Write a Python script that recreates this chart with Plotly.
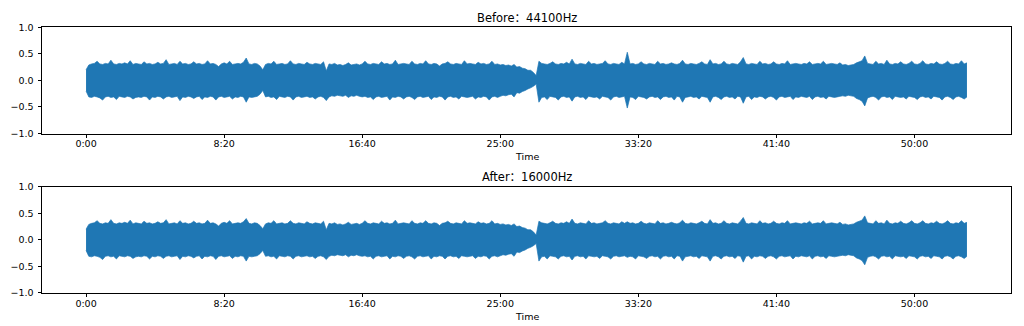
import numpy as np
import plotly.graph_objects as go

# Waveform envelopes (peak amplitude per 10 s block), read as upper / lower bounds.
block_seconds = 10
times = np.arange(0, 3200, block_seconds)  # block start times in seconds (0 .. 3190)

before_upper = [
    0.20, 0.29, 0.31, 0.32, 0.36, 0.31, 0.30, 0.32, 0.31, 0.38, 0.31, 0.30, 0.32, 0.31, 0.33, 0.31, 0.37, 0.30, 0.32, 0.31,
    0.30, 0.35, 0.31, 0.32, 0.30, 0.31, 0.34, 0.31, 0.32, 0.39, 0.30, 0.31, 0.32, 0.30, 0.36, 0.31, 0.32, 0.30, 0.31, 0.35,
    0.31, 0.32, 0.30, 0.31, 0.37, 0.31, 0.32, 0.30, 0.26, 0.31, 0.33, 0.31, 0.36, 0.30, 0.31, 0.32, 0.31, 0.34, 0.42, 0.31,
    0.30, 0.32, 0.31, 0.27, 0.20, 0.30, 0.32, 0.31, 0.36, 0.30, 0.31, 0.32, 0.30, 0.31, 0.37, 0.31, 0.30, 0.32, 0.31, 0.30,
    0.34, 0.31, 0.30, 0.32, 0.31, 0.30, 0.35, 0.18, 0.31, 0.30, 0.32, 0.29, 0.30, 0.28, 0.30, 0.33, 0.29, 0.30, 0.31, 0.29,
    0.31, 0.36, 0.31, 0.30, 0.32, 0.31, 0.30, 0.35, 0.31, 0.32, 0.30, 0.31, 0.38, 0.30, 0.31, 0.32, 0.31, 0.30, 0.36, 0.31,
    0.30, 0.32, 0.31, 0.37, 0.31, 0.30, 0.32, 0.31, 0.27, 0.31, 0.32, 0.35, 0.31, 0.30, 0.32, 0.31, 0.30, 0.37, 0.31, 0.32,
    0.31, 0.30, 0.34, 0.31, 0.32, 0.30, 0.31, 0.36, 0.30, 0.31, 0.29, 0.30, 0.28, 0.29, 0.27, 0.30, 0.25, 0.26, 0.23, 0.22,
    0.19, 0.19, 0.15, 0.09, 0.36, 0.32, 0.31, 0.30, 0.32, 0.35, 0.31, 0.30, 0.32, 0.31, 0.34, 0.31, 0.40, 0.31, 0.30, 0.32,
    0.31, 0.30, 0.36, 0.31, 0.32, 0.30, 0.31, 0.32, 0.37, 0.31, 0.30, 0.32, 0.31, 0.30, 0.34, 0.31, 0.53, 0.31, 0.32, 0.30,
    0.31, 0.35, 0.31, 0.30, 0.32, 0.31, 0.30, 0.36, 0.31, 0.32, 0.30, 0.31, 0.33, 0.31, 0.30, 0.32, 0.38, 0.31, 0.30, 0.32,
    0.31, 0.30, 0.32, 0.35, 0.31, 0.30, 0.39, 0.31, 0.32, 0.30, 0.31, 0.36, 0.31, 0.30, 0.32, 0.31, 0.30, 0.35, 0.43, 0.31,
    0.30, 0.32, 0.31, 0.30, 0.36, 0.31, 0.32, 0.30, 0.31, 0.35, 0.31, 0.30, 0.32, 0.31, 0.37, 0.30, 0.31, 0.32, 0.31, 0.30,
    0.32, 0.31, 0.35, 0.30, 0.31, 0.32, 0.31, 0.36, 0.30, 0.31, 0.32, 0.31, 0.30, 0.33, 0.29, 0.30, 0.28, 0.29, 0.30, 0.33,
    0.35, 0.37, 0.46, 0.32, 0.31, 0.30, 0.36, 0.31, 0.32, 0.30, 0.38, 0.31, 0.30, 0.32, 0.31, 0.35, 0.31, 0.30, 0.32, 0.36,
    0.31, 0.30, 0.32, 0.37, 0.31, 0.30, 0.32, 0.31, 0.35, 0.31, 0.30, 0.32, 0.36, 0.31, 0.30, 0.32, 0.31, 0.37, 0.31, 0.33,
]
before_lower = [
    -0.20, -0.31, -0.32, -0.30, -0.31, -0.33, -0.37, -0.31, -0.30, -0.32, -0.31, -0.36, -0.30, -0.31, -0.32, -0.30, -0.31, -0.35, -0.32, -0.31,
    -0.32, -0.30, -0.31, -0.37, -0.31, -0.32, -0.30, -0.31, -0.35, -0.31, -0.30, -0.32, -0.31, -0.30, -0.38, -0.31, -0.32, -0.30, -0.31, -0.34,
    -0.31, -0.30, -0.36, -0.31, -0.32, -0.30, -0.31, -0.37, -0.31, -0.30, -0.32, -0.31, -0.30, -0.35, -0.31, -0.32, -0.30, -0.31, -0.41, -0.31,
    -0.32, -0.31, -0.30, -0.26, -0.19, -0.31, -0.30, -0.32, -0.31, -0.36, -0.30, -0.31, -0.32, -0.30, -0.31, -0.37, -0.31, -0.30, -0.32, -0.31,
    -0.30, -0.32, -0.31, -0.35, -0.31, -0.30, -0.32, -0.38, -0.31, -0.29, -0.30, -0.28, -0.29, -0.30, -0.28, -0.32, -0.29, -0.30, -0.28, -0.30,
    -0.31, -0.30, -0.32, -0.31, -0.36, -0.31, -0.30, -0.32, -0.31, -0.30, -0.37, -0.31, -0.32, -0.30, -0.31, -0.35, -0.31, -0.30, -0.32, -0.36,
    -0.31, -0.30, -0.32, -0.31, -0.30, -0.36, -0.31, -0.32, -0.30, -0.31, -0.37, -0.31, -0.30, -0.32, -0.31, -0.35, -0.30, -0.31, -0.32, -0.31,
    -0.30, -0.35, -0.31, -0.32, -0.30, -0.31, -0.37, -0.31, -0.30, -0.32, -0.30, -0.28, -0.29, -0.27, -0.26, -0.31, -0.23, -0.24, -0.21, -0.19,
    -0.16, -0.14, -0.11, -0.07, -0.41, -0.32, -0.31, -0.36, -0.30, -0.31, -0.32, -0.37, -0.31, -0.30, -0.32, -0.31, -0.39, -0.31, -0.30, -0.32,
    -0.31, -0.36, -0.30, -0.31, -0.32, -0.31, -0.35, -0.30, -0.31, -0.32, -0.37, -0.31, -0.30, -0.32, -0.31, -0.30, -0.52, -0.31, -0.32, -0.36,
    -0.30, -0.31, -0.32, -0.35, -0.31, -0.30, -0.32, -0.31, -0.36, -0.31, -0.30, -0.32, -0.31, -0.37, -0.30, -0.31, -0.41, -0.32, -0.31, -0.30,
    -0.32, -0.31, -0.35, -0.30, -0.31, -0.32, -0.41, -0.31, -0.30, -0.32, -0.36, -0.31, -0.30, -0.32, -0.31, -0.35, -0.30, -0.31, -0.43, -0.31,
    -0.30, -0.36, -0.31, -0.32, -0.30, -0.31, -0.35, -0.31, -0.30, -0.32, -0.37, -0.31, -0.30, -0.32, -0.31, -0.30, -0.36, -0.31, -0.32, -0.30,
    -0.31, -0.32, -0.30, -0.36, -0.31, -0.30, -0.32, -0.31, -0.35, -0.30, -0.31, -0.32, -0.31, -0.30, -0.29, -0.30, -0.28, -0.29, -0.30, -0.34,
    -0.36, -0.39, -0.48, -0.33, -0.31, -0.30, -0.32, -0.37, -0.31, -0.30, -0.32, -0.31, -0.36, -0.30, -0.31, -0.32, -0.31, -0.35, -0.30, -0.31,
    -0.32, -0.36, -0.31, -0.30, -0.32, -0.31, -0.35, -0.30, -0.31, -0.32, -0.37, -0.31, -0.30, -0.32, -0.36, -0.31, -0.30, -0.32, -0.35, -0.31,
]
after_upper = [
    0.20, 0.29, 0.31, 0.32, 0.36, 0.31, 0.30, 0.32, 0.31, 0.38, 0.31, 0.30, 0.32, 0.31, 0.33, 0.31, 0.37, 0.30, 0.32, 0.31,
    0.30, 0.35, 0.31, 0.32, 0.30, 0.31, 0.34, 0.31, 0.32, 0.38, 0.30, 0.31, 0.32, 0.30, 0.36, 0.31, 0.32, 0.30, 0.31, 0.35,
    0.31, 0.32, 0.30, 0.31, 0.37, 0.31, 0.32, 0.30, 0.26, 0.31, 0.33, 0.31, 0.36, 0.30, 0.31, 0.32, 0.31, 0.34, 0.40, 0.31,
    0.30, 0.32, 0.31, 0.27, 0.21, 0.30, 0.32, 0.31, 0.36, 0.30, 0.31, 0.32, 0.30, 0.31, 0.36, 0.31, 0.30, 0.32, 0.31, 0.30,
    0.34, 0.31, 0.30, 0.32, 0.31, 0.30, 0.35, 0.19, 0.31, 0.30, 0.32, 0.29, 0.30, 0.28, 0.30, 0.33, 0.29, 0.30, 0.31, 0.29,
    0.31, 0.36, 0.31, 0.30, 0.32, 0.31, 0.30, 0.35, 0.31, 0.32, 0.30, 0.31, 0.37, 0.30, 0.31, 0.32, 0.31, 0.30, 0.36, 0.31,
    0.30, 0.32, 0.31, 0.36, 0.31, 0.30, 0.32, 0.31, 0.27, 0.31, 0.32, 0.35, 0.31, 0.30, 0.32, 0.31, 0.30, 0.36, 0.31, 0.32,
    0.31, 0.30, 0.34, 0.31, 0.32, 0.30, 0.31, 0.36, 0.30, 0.31, 0.29, 0.30, 0.28, 0.29, 0.27, 0.30, 0.25, 0.26, 0.23, 0.22,
    0.19, 0.19, 0.15, 0.09, 0.35, 0.32, 0.31, 0.30, 0.32, 0.35, 0.31, 0.30, 0.32, 0.31, 0.34, 0.31, 0.39, 0.31, 0.30, 0.32,
    0.31, 0.30, 0.36, 0.31, 0.32, 0.30, 0.31, 0.32, 0.36, 0.31, 0.30, 0.32, 0.31, 0.30, 0.34, 0.31, 0.34, 0.31, 0.32, 0.30,
    0.31, 0.35, 0.31, 0.30, 0.32, 0.31, 0.30, 0.36, 0.31, 0.32, 0.30, 0.31, 0.33, 0.31, 0.30, 0.32, 0.37, 0.31, 0.30, 0.32,
    0.31, 0.30, 0.32, 0.35, 0.31, 0.30, 0.38, 0.31, 0.32, 0.30, 0.31, 0.36, 0.31, 0.30, 0.32, 0.31, 0.30, 0.35, 0.42, 0.31,
    0.30, 0.32, 0.31, 0.30, 0.36, 0.31, 0.32, 0.30, 0.31, 0.35, 0.31, 0.30, 0.32, 0.31, 0.36, 0.30, 0.31, 0.32, 0.31, 0.30,
    0.32, 0.31, 0.35, 0.30, 0.31, 0.32, 0.31, 0.36, 0.30, 0.31, 0.32, 0.31, 0.30, 0.33, 0.29, 0.30, 0.28, 0.29, 0.30, 0.33,
    0.35, 0.37, 0.45, 0.32, 0.31, 0.30, 0.36, 0.31, 0.32, 0.30, 0.37, 0.31, 0.30, 0.32, 0.31, 0.35, 0.31, 0.30, 0.32, 0.36,
    0.31, 0.30, 0.32, 0.36, 0.31, 0.30, 0.32, 0.31, 0.35, 0.31, 0.30, 0.32, 0.36, 0.31, 0.30, 0.32, 0.31, 0.36, 0.31, 0.33,
]
after_lower = [
    -0.20, -0.31, -0.32, -0.30, -0.31, -0.33, -0.37, -0.31, -0.30, -0.32, -0.31, -0.36, -0.30, -0.31, -0.32, -0.30, -0.31, -0.35, -0.32, -0.31,
    -0.32, -0.30, -0.31, -0.36, -0.31, -0.32, -0.30, -0.31, -0.35, -0.31, -0.30, -0.32, -0.31, -0.30, -0.37, -0.31, -0.32, -0.30, -0.31, -0.34,
    -0.31, -0.30, -0.36, -0.31, -0.32, -0.30, -0.31, -0.37, -0.31, -0.30, -0.32, -0.31, -0.30, -0.35, -0.31, -0.32, -0.30, -0.31, -0.40, -0.31,
    -0.32, -0.31, -0.30, -0.26, -0.20, -0.31, -0.30, -0.32, -0.31, -0.36, -0.30, -0.31, -0.32, -0.30, -0.31, -0.36, -0.31, -0.30, -0.32, -0.31,
    -0.30, -0.32, -0.31, -0.35, -0.31, -0.30, -0.32, -0.37, -0.31, -0.29, -0.30, -0.28, -0.29, -0.30, -0.28, -0.32, -0.29, -0.30, -0.28, -0.30,
    -0.31, -0.30, -0.32, -0.31, -0.36, -0.31, -0.30, -0.32, -0.31, -0.30, -0.36, -0.31, -0.32, -0.30, -0.31, -0.35, -0.31, -0.30, -0.32, -0.36,
    -0.31, -0.30, -0.32, -0.31, -0.30, -0.36, -0.31, -0.32, -0.30, -0.31, -0.36, -0.31, -0.30, -0.32, -0.31, -0.35, -0.30, -0.31, -0.32, -0.31,
    -0.30, -0.35, -0.31, -0.32, -0.30, -0.31, -0.36, -0.31, -0.30, -0.32, -0.30, -0.28, -0.29, -0.27, -0.26, -0.31, -0.23, -0.24, -0.21, -0.19,
    -0.16, -0.14, -0.11, -0.07, -0.40, -0.32, -0.31, -0.36, -0.30, -0.31, -0.32, -0.36, -0.31, -0.30, -0.32, -0.31, -0.38, -0.31, -0.30, -0.32,
    -0.31, -0.36, -0.30, -0.31, -0.32, -0.31, -0.35, -0.30, -0.31, -0.32, -0.36, -0.31, -0.30, -0.32, -0.31, -0.30, -0.33, -0.31, -0.32, -0.36,
    -0.30, -0.31, -0.32, -0.35, -0.31, -0.30, -0.32, -0.31, -0.36, -0.31, -0.30, -0.32, -0.31, -0.36, -0.30, -0.31, -0.40, -0.32, -0.31, -0.30,
    -0.32, -0.31, -0.35, -0.30, -0.31, -0.32, -0.40, -0.31, -0.30, -0.32, -0.36, -0.31, -0.30, -0.32, -0.31, -0.35, -0.30, -0.31, -0.42, -0.31,
    -0.30, -0.36, -0.31, -0.32, -0.30, -0.31, -0.35, -0.31, -0.30, -0.32, -0.36, -0.31, -0.30, -0.32, -0.31, -0.30, -0.36, -0.31, -0.32, -0.30,
    -0.31, -0.32, -0.30, -0.36, -0.31, -0.30, -0.32, -0.31, -0.35, -0.30, -0.31, -0.32, -0.31, -0.30, -0.29, -0.30, -0.28, -0.29, -0.30, -0.34,
    -0.36, -0.39, -0.47, -0.33, -0.31, -0.30, -0.32, -0.36, -0.31, -0.30, -0.32, -0.31, -0.36, -0.30, -0.31, -0.32, -0.31, -0.35, -0.30, -0.31,
    -0.32, -0.36, -0.31, -0.30, -0.32, -0.31, -0.35, -0.30, -0.31, -0.32, -0.36, -0.31, -0.30, -0.32, -0.36, -0.31, -0.30, -0.32, -0.35, -0.31,
]

panel_titles = ["Before：44100Hz", "After：16000Hz"]
x_tick_seconds = [0, 500, 1000, 1500, 2000, 2500, 3000]
x_tick_labels = ["0:00", "8:20", "16:40", "25:00", "33:20", "41:40", "50:00"]
y_tick_values = [-1.0, -0.5, 0.0, 0.5, 1.0]
y_tick_labels = ["−1.0", "−0.5", "0.0", "0.5", "1.0"]

WAVE_COLOR = "#1f77b4"
FONT = "DejaVu Sans, Noto Sans CJK SC, sans-serif"
W, H = 1024, 326

# Axes boxes in pixels: (left, right, top, bottom)
boxes = [(42, 1011, 22, 132), (42, 1011, 187, 297)]

# 5% margin on each side of the time span, as matplotlib autoscaling does
t_min, t_max = float(times[0]), float(times[-1])
pad = 0.05 * (t_max - t_min)
x_range = [t_min - pad, t_max + pad]

fig = go.Figure()
series = [(before_upper, before_lower), (after_upper, after_lower)]

annotations = []
for k, ((upper, lower), (l, r, t, b)) in enumerate(zip(series, boxes)):
    xa = "x" if k == 0 else f"x{k + 1}"
    ya = "y" if k == 0 else f"y{k + 1}"
    fig.add_trace(go.Scatter(
        x=times, y=lower, mode="lines", xaxis=xa, yaxis=ya,
        line=dict(color=WAVE_COLOR, width=0.7, simplify=False),
        hoverinfo="skip", showlegend=False,
    ))
    fig.add_trace(go.Scatter(
        x=times, y=upper, mode="lines", xaxis=xa, yaxis=ya,
        fill="tonexty", fillcolor=WAVE_COLOR,
        line=dict(color=WAVE_COLOR, width=0.7, simplify=False),
        hoverinfo="skip", showlegend=False,
    ))

    axis_common = dict(
        showline=True, linecolor="black", linewidth=1, mirror=True,
        ticks="outside", ticklen=3.5, tickwidth=1, tickcolor="black",
        showgrid=False, zeroline=False,
        tickfont=dict(family=FONT, size=9.5, color="black"),
    )
    xkey = "xaxis" if k == 0 else f"xaxis{k + 1}"
    ykey = "yaxis" if k == 0 else f"yaxis{k + 1}"
    fig.update_layout({
        xkey: dict(
            domain=[l / W, r / W], range=x_range, anchor=ya,
            tickmode="array", tickvals=x_tick_seconds, ticktext=x_tick_labels,
            ticklabelstandoff=-2,
            **axis_common,
        ),
        ykey: dict(
            domain=[1 - b / H, 1 - t / H], range=[-1, 1], anchor=xa,
            tickmode="array", tickvals=y_tick_values, ticktext=y_tick_labels,
            ticklabelstandoff=2,
            **axis_common,
        ),
    })

    cx = (l + r) / 2 / W
    annotations.append(dict(
        text=panel_titles[k], x=cx, y=1 - (t - 10) / H, xref="paper", yref="paper",
        xanchor="center", yanchor="middle", showarrow=False,
        font=dict(family=FONT, size=11.5, color="black"),
    ))
    annotations.append(dict(
        text="Time", x=cx, y=1 - (b + 24) / H, xref="paper", yref="paper",
        xanchor="center", yanchor="middle", showarrow=False,
        font=dict(family=FONT, size=9.5, color="black"),
    ))

fig.update_layout(
    width=W, height=H,
    margin=dict(l=0, r=0, t=0, b=0),
    paper_bgcolor="white", plot_bgcolor="white",
    annotations=annotations,
)

fig.write_html("out.html", config={"displayModeBar": False})
